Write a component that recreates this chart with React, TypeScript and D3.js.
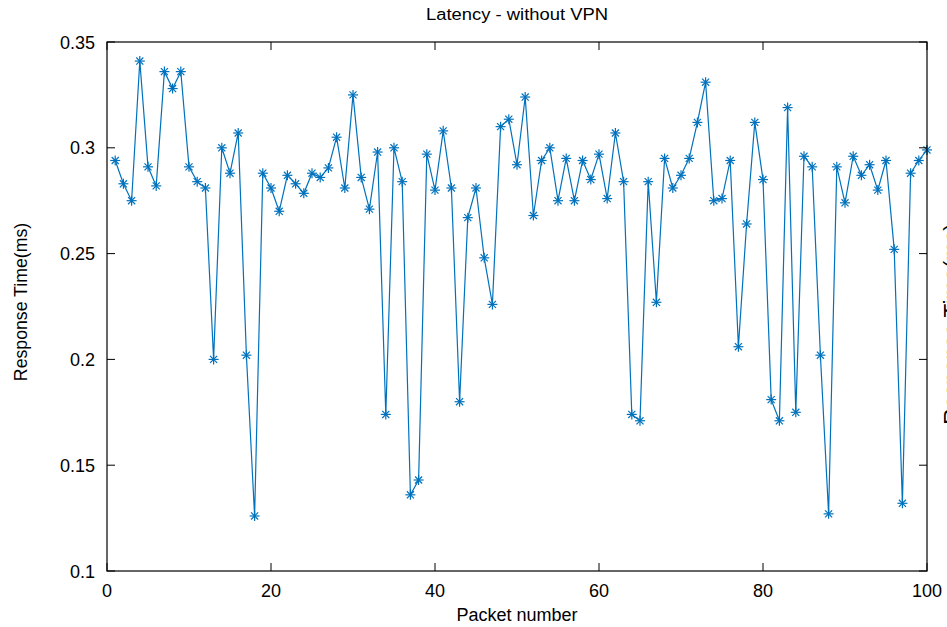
import React from "react";
import * as d3 from "d3";

// response times (ms) for packets 1..100
const packets = d3.range(1, 101);
const latency = [
  0.294, 0.283, 0.275, 0.341, 0.291, 0.282, 0.336, 0.328, 0.336, 0.291,
  0.284, 0.281, 0.2, 0.3, 0.288, 0.307, 0.202, 0.126, 0.288, 0.281,
  0.27, 0.287, 0.283, 0.2785, 0.288, 0.286, 0.2905, 0.305, 0.281, 0.325,
  0.286, 0.271, 0.298, 0.174, 0.3, 0.284, 0.136, 0.143, 0.297, 0.28,
  0.308, 0.281, 0.18, 0.267, 0.281, 0.248, 0.226, 0.31, 0.3135, 0.292,
  0.324, 0.268, 0.294, 0.3, 0.275, 0.295, 0.275, 0.294, 0.285, 0.297,
  0.276, 0.307, 0.284, 0.174, 0.171, 0.284, 0.227, 0.295, 0.281, 0.287,
  0.295, 0.312, 0.331, 0.275, 0.276, 0.294, 0.206, 0.264, 0.312, 0.285,
  0.181, 0.171, 0.319, 0.175, 0.296, 0.291, 0.202, 0.127, 0.291, 0.274,
  0.296, 0.287, 0.292, 0.28, 0.294, 0.252, 0.132, 0.288, 0.294, 0.299,
];
const xTicks = [0, 20, 40, 60, 80, 100];
const yTicks = [0.1, 0.15, 0.2, 0.25, 0.3, 0.35];

const W = 947;
const H = 627;
const left = 107, right = 927, top = 42, bottom = 571;
const blue = "#0072BD";
const font = "'Liberation Sans', Arial, Helvetica, sans-serif";

const App = () => {
  const x = d3.scaleLinear().domain([0, 100]).range([left, right]);
  const y = d3.scaleLinear().domain([0.1, 0.35]).range([bottom, top]);
  const line = d3
    .line<number>()
    .x((_, i) => x(packets[i]))
    .y((d) => y(d));

  const tk = 8; // inward tick length
  const m = 5; // marker half size
  const d45 = m * Math.SQRT1_2;

  return (
    <svg width={W} height={H} style={{ position: "absolute", left: 0, top: 0, background: "#fff" }}>
      <rect width={W} height={H} fill="#fff" />
      <text x={517} y={20} textAnchor="middle" fontFamily={font} fontSize={16} textLength={182} lengthAdjust="spacingAndGlyphs">
        Latency - without VPN
      </text>

      {/* data */}
      <path d={line(latency) || ""} fill="none" stroke={blue} strokeWidth={1.2} />
      {latency.map((v, i) => {
        const cx = x(packets[i]);
        const cy = y(v);
        return (
          <g key={i} stroke={blue} strokeWidth={1.2}>
            <line x1={cx - m} y1={cy} x2={cx + m} y2={cy} />
            <line x1={cx} y1={cy - m} x2={cx} y2={cy + m} />
            <line x1={cx - d45} y1={cy - d45} x2={cx + d45} y2={cy + d45} />
            <line x1={cx - d45} y1={cy + d45} x2={cx + d45} y2={cy - d45} />
          </g>
        );
      })}

      {/* axes box */}
      <rect x={left} y={top} width={right - left} height={bottom - top} fill="none" stroke="#000" strokeWidth={1.2} />
      {xTicks.map((t) => (
        <g key={"x" + t}>
          <line x1={x(t)} x2={x(t)} y1={bottom} y2={bottom - tk} stroke="#000" />
          <line x1={x(t)} x2={x(t)} y1={top} y2={top + tk} stroke="#000" />
          <text x={x(t)} y={597} textAnchor="middle" fontFamily={font} fontSize={18}>
            {t}
          </text>
        </g>
      ))}
      {yTicks.map((t) => (
        <g key={"y" + t}>
          <line x1={left} x2={left + tk} y1={y(t)} y2={y(t)} stroke="#000" />
          <line x1={right} x2={right - tk} y1={y(t)} y2={y(t)} stroke="#000" />
          <text x={95} y={y(t) + 6.5} textAnchor="end" fontFamily={font} fontSize={18}>
            {String(t)}
          </text>
        </g>
      ))}

      <text x={517} y={621} textAnchor="middle" fontFamily={font} fontSize={18}>
        Packet number
      </text>
      <text
        transform={`translate(26.5,302) rotate(-90)`}
        textAnchor="middle"
        fontFamily={font}
        fontSize={17.7}
      >
        Response Time(ms)
      </text>
      {/* label of the neighbouring plot, cut off by the edge */}
      <text
        transform={`translate(959,324) rotate(-90)`}
        textAnchor="middle"
        fontFamily={font}
        fontSize={22.5}
      >
        Response Time(ms)
      </text>
    </svg>
  );
};

export default App;
